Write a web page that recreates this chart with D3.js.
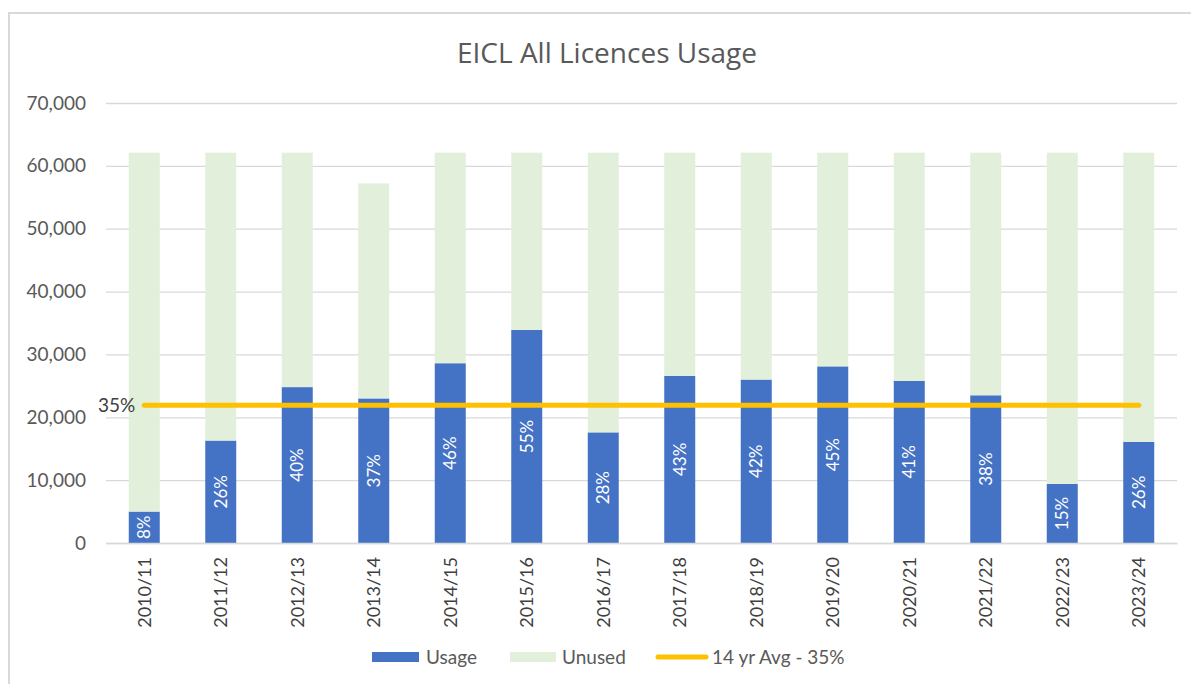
<!DOCTYPE html>
<html>
<head>
<meta charset="utf-8">
<script src="https://cdn.jsdelivr.net/npm/d3@7"></script>
<style>
  html, body { margin: 0; padding: 0; background: #fff; }
  svg { display: block; font-family: Lato, "Open Sans", sans-serif; }
</style>
</head>
<body>
<svg id="chart" width="1191" height="684"></svg>
<script>
const categories = ["2010/11","2011/12","2012/13","2013/14","2014/15","2015/16","2016/17","2017/18","2018/19","2019/20","2020/21","2021/22","2022/23","2023/24"];
const usage = [5000, 16300, 24800, 23000, 28600, 33900, 17600, 26600, 26000, 28100, 25800, 23500, 9400, 16100];
const totals = [62100, 62100, 62100, 57200, 62100, 62100, 62100, 62100, 62100, 62100, 62100, 62100, 62100, 62100];
const usageLabels = ["8%","26%","40%","37%","46%","55%","28%","43%","42%","45%","41%","38%","15%","26%"];
const avgValue = 21900;
const avgLabel = "35%";
const yTicks = [0, 10000, 20000, 30000, 40000, 50000, 60000, 70000];
const title = "EICL All Licences Usage";
const legendLabels = ["Usage", "Unused", "14 yr Avg - 35%"];

const unused = totals.map((t, i) => t - usage[i]);

const svg = d3.select("#chart");
const W = 1191, H = 684;
const m = { left: 106, right: 14, top: 103, bottom: 141 };
const plotW = W - m.left - m.right;
const plotH = H - m.top - m.bottom;

const colUsage = "#4472C4", colUnused = "#E2EFDA", colAvg = "#FFC000";

// chart border
svg.append("rect").attr("x", 9).attr("y", 13).attr("width", W).attr("height", H)
  .attr("fill", "#fff").attr("stroke", "#d9d9d9").attr("stroke-width", 2);

const x = d3.scaleBand().domain(categories).range([m.left, m.left + plotW]).paddingInner(0.595).paddingOuter(0.2975);
const y = d3.scaleLinear().domain([0, 70000]).range([m.top + plotH, m.top]);

// gridlines
const gy = svg.append("g").attr("transform", `translate(${m.left},0)`)
  .call(d3.axisLeft(y).tickValues(yTicks).tickSize(-plotW).tickFormat(""));
gy.select(".domain").remove();
gy.selectAll("line").attr("stroke", "#d9d9d9").attr("stroke-width", 1.3);

// y labels
const ya = svg.append("g").attr("transform", `translate(${m.left - 20},0)`)
  .call(d3.axisLeft(y).tickValues(yTicks).tickSize(0).tickPadding(0).tickFormat(d3.format(",")));
ya.select(".domain").remove();
ya.selectAll("text").attr("fill", "#595959").style("font-size", "19px").style("font-family", "Lato");

// stacked bars
const stackData = categories.map((c, i) => ({ cat: c, usage: usage[i], unused: unused[i] }));
const series = d3.stack().keys(["usage", "unused"])(stackData);
const colors = { usage: colUsage, unused: colUnused };
svg.append("g").selectAll("g").data(series).join("g")
  .attr("fill", d => colors[d.key])
  .selectAll("rect").data(d => d).join("rect")
  .attr("x", d => x(d.data.cat))
  .attr("width", x.bandwidth())
  .attr("y", d => y(d[1]))
  .attr("height", d => y(d[0]) - y(d[1]));

// usage % labels
svg.append("g").selectAll("text").data(stackData).join("text")
  .attr("transform", (d, i) => `translate(${x(d.cat) + x.bandwidth() / 2},${(y(0) + y(d.usage)) / 2}) rotate(-90)`)
  .attr("text-anchor", "middle").attr("dy", "0.36em")
  .attr("fill", "#ffffff").style("font-size", "17px")
  .text((d, i) => usageLabels[i]);

// average line
const cx = c => x(c) + x.bandwidth() / 2;
svg.append("line")
  .attr("x1", cx(categories[0])).attr("x2", cx(categories[categories.length - 1]))
  .attr("y1", y(avgValue)).attr("y2", y(avgValue))
  .attr("stroke", colAvg).attr("stroke-width", 5).attr("stroke-linecap", "round");
svg.append("text")
  .attr("x", cx(categories[0]) - 9).attr("y", y(avgValue)).attr("dy", "0.36em")
  .attr("text-anchor", "end").attr("fill", "#404040").style("font-size", "19px")
  .text(avgLabel);

// x labels
const xa = svg.append("g").attr("transform", `translate(0,${y(0)})`)
  .call(d3.axisBottom(x).tickSize(0).tickPadding(0));
xa.select(".domain").attr("stroke", "#d9d9d9").attr("stroke-width", 1.3);
xa.selectAll("text")
  .attr("transform", "translate(0,14) rotate(-90)")
  .attr("text-anchor", "end").attr("dy", "0.36em").attr("x", 0).attr("y", 0)
  .attr("fill", "#404040").style("font-size", "18px").style("font-family", "Lato");

// title
svg.append("text").attr("x", 607).attr("y", 63).attr("text-anchor", "middle")
  .attr("fill", "#595959").style("font-size", "28px").style("font-family", "'Open Sans'").text(title);

// legend
const lg = svg.append("g");
const ly = 657;
lg.append("rect").attr("x", 372).attr("y", ly - 5).attr("width", 47).attr("height", 10).attr("fill", colUsage);
lg.append("text").attr("x", 426).attr("y", ly).attr("dy", "0.36em").attr("fill", "#595959").style("font-size", "19px").text(legendLabels[0]);
lg.append("rect").attr("x", 510).attr("y", ly - 5).attr("width", 46).attr("height", 10).attr("fill", colUnused);
lg.append("text").attr("x", 562).attr("y", ly).attr("dy", "0.36em").attr("fill", "#595959").style("font-size", "19px").text(legendLabels[1]);
lg.append("line").attr("x1", 658).attr("x2", 706).attr("y1", ly).attr("y2", ly)
  .attr("stroke", colAvg).attr("stroke-width", 5).attr("stroke-linecap", "round");
lg.append("text").attr("x", 712).attr("y", ly).attr("dy", "0.36em").attr("fill", "#595959").style("font-size", "19px").text(legendLabels[2]);
</script>
</body>
</html>
